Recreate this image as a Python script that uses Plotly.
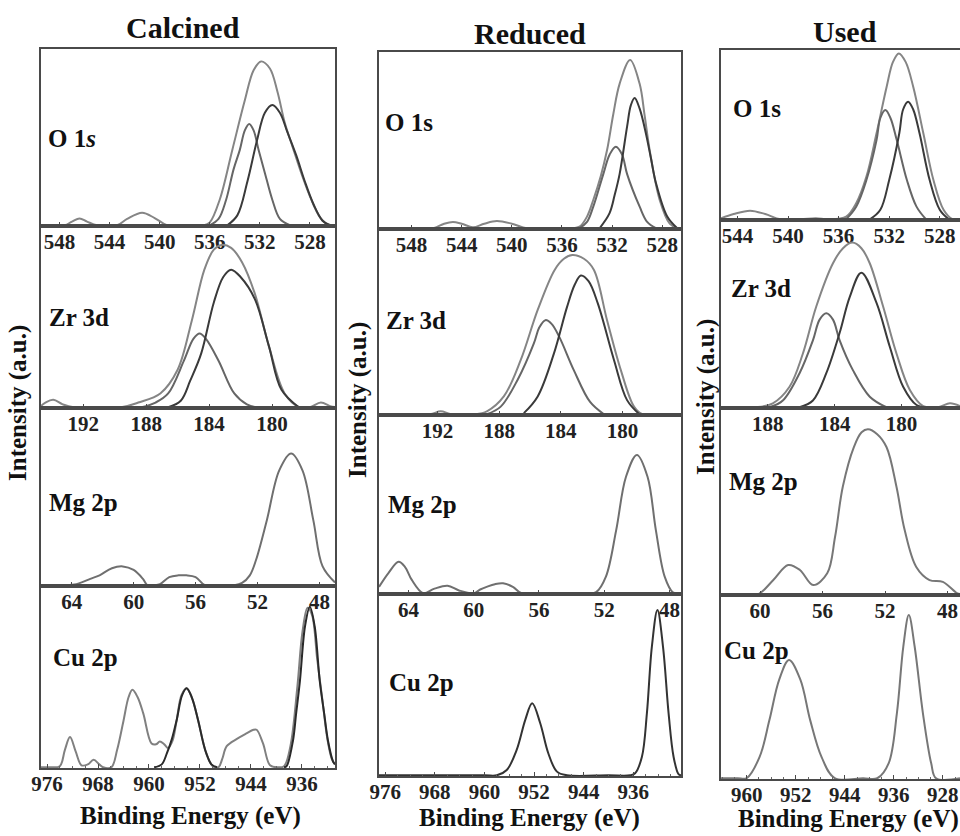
import plotly.graph_objects as go

W, H = 960, 836
SERIF = "Liberation Serif, Times New Roman, serif"

# ---------------- tick labels (binding energy, eV) ----------------
ticks_o1s_a = [548, 544, 540, 536, 532, 528]
ticks_zr_a = [192, 188, 184, 180]
ticks_mg_a = [64, 60, 56, 52, 48]
ticks_cu_a = [976, 968, 960, 952, 944, 936]
ticks_o1s_c = [544, 540, 536, 532, 528]
ticks_zr_c = [188, 184, 180]
ticks_mg_c = [60, 56, 52, 48]
ticks_cu_c = [960, 952, 944, 936, 928]

column_titles = ["Calcined", "Reduced", "Used"]

# ---------------- Calcined ----------------
calc_o1s_env_x = [549.5, 547.6, 547.0, 546.4, 545.8, 545.0, 543.4, 542.6, 541.4, 540.4, 539.4, 538.5, 536.5, 536.0, 535.2, 534.2, 533.2, 532.5, 531.9, 531.2, 530.6, 530.0, 529.4, 528.6, 527.9, 527.2, 526.6, 526.0]
calc_o1s_env_y = [0.004, 0.004, 0.025, 0.043, 0.025, 0.004, 0.004, 0.04, 0.075, 0.045, 0.004, 0.004, 0.004, 0.02, 0.15, 0.43, 0.71, 0.88, 0.93, 0.89, 0.76, 0.58, 0.45, 0.28, 0.15, 0.05, 0.01, 0.004]
calc_o1s_c1_x = [536.0, 535.3, 534.7, 534.1, 533.6, 533.2, 532.85, 532.5, 532.1, 531.6, 531.0, 530.4, 529.6]
calc_o1s_c1_y = [0.004, 0.04, 0.147, 0.32, 0.43, 0.54, 0.576, 0.54, 0.43, 0.30, 0.147, 0.04, 0.004]
calc_o1s_c2_x = [534.6, 533.8, 533.0, 532.24, 531.6, 531.0, 530.4, 529.8, 529.1, 528.4, 527.7, 527.0, 526.4]
calc_o1s_c2_y = [0.004, 0.06, 0.25, 0.48, 0.64, 0.684, 0.64, 0.53, 0.40, 0.25, 0.12, 0.03, 0.004]

calc_zr_env_x = [194.7, 194.4, 193.9, 193.3, 192.6, 189.6, 188.5, 187.1, 186.0, 185.1, 184.3, 183.7, 183.2, 182.6, 181.9, 181.1, 180.2, 179.2, 178.3, 177.6, 176.9, 176.3, 176.0]
calc_zr_env_y = [0.01, 0.03, 0.045, 0.02, 0.004, 0.004, 0.03, 0.08, 0.21, 0.48, 0.76, 0.87, 0.896, 0.88, 0.80, 0.63, 0.34, 0.08, 0.006, 0.004, 0.03, 0.01, 0.005]
calc_zr_c1_x = [188.3, 187.4, 186.6, 185.6, 185.0, 184.6, 184.2, 183.4, 182.4, 181.6, 181.0]
calc_zr_c1_y = [0.004, 0.03, 0.08, 0.26, 0.38, 0.41, 0.38, 0.26, 0.08, 0.02, 0.004]
calc_zr_c2_x = [186.6, 185.8, 185.2, 184.5, 183.7, 183.1, 182.6, 182.0, 181.1, 180.2, 179.4, 178.3]
calc_zr_c2_y = [0.004, 0.04, 0.15, 0.30, 0.58, 0.72, 0.76, 0.72, 0.60, 0.34, 0.10, 0.004]

calc_mg_x = [66.0, 64.5, 63.7, 62.8, 62.2, 61.4, 60.7, 60.0, 59.4, 59.1, 58.7, 58.3, 57.7, 57.1, 56.6, 56.0, 55.4, 54.5, 53.5, 53.0, 52.5, 52.1, 51.4, 50.6, 49.83, 49.1, 48.4, 47.8, 47.0]
calc_mg_y = [0.004, 0.004, 0.01, 0.04, 0.06, 0.10, 0.11, 0.09, 0.04, 0.004, 0.004, 0.01, 0.05, 0.06, 0.06, 0.05, 0.004, 0.004, 0.004, 0.017, 0.06, 0.146, 0.37, 0.65, 0.745, 0.65, 0.37, 0.11, 0.02]

calc_cu_gray_x = [977.0, 975.5, 974.0, 973.2, 972.4, 971.5, 970.6, 969.6, 968.7, 967.8, 967.2, 965.9, 965.0, 964.0, 963.2, 962.6, 961.8, 960.9, 959.6, 958.9, 958.3, 957.6, 957.0, 956.3, 955.65, 954.9, 954.1, 953.2, 952.3, 951.0, 950.0, 949.1, 948.5, 947.8, 946.2, 944.7, 943.6, 943.1, 942.1, 941.0, 939.8, 938.8, 937.8, 936.7, 935.9, 935.1, 934.4, 933.6, 932.8, 932.0, 931.3, 930.8]
calc_cu_gray_y = [0.004, 0.004, 0.01, 0.10, 0.17, 0.09, 0.015, 0.02, 0.045, 0.02, 0.004, 0.004, 0.10, 0.26, 0.39, 0.43, 0.39, 0.30, 0.135, 0.13, 0.145, 0.13, 0.11, 0.15, 0.264, 0.40, 0.438, 0.38, 0.264, 0.08, 0.01, 0.004, 0.05, 0.12, 0.16, 0.19, 0.21, 0.21, 0.135, 0.015, 0.004, 0.01, 0.12, 0.45, 0.75, 0.88, 0.84, 0.60, 0.38, 0.16, 0.05, 0.02]
calc_cu_d1_x = [959.2, 958.0, 957.2, 956.4, 955.65, 954.8, 954.1, 953.3, 952.3, 951.5, 951.0, 950.2, 949.3]
calc_cu_d1_y = [0.004, 0.02, 0.08, 0.16, 0.264, 0.40, 0.438, 0.39, 0.264, 0.14, 0.08, 0.02, 0.004]
calc_cu_d2_x = [938.8, 938.4, 937.4, 936.9, 936.3, 935.5, 934.75, 934.0, 933.2, 932.5, 931.9, 931.1, 930.8]
calc_cu_d2_y = [0.004, 0.01, 0.15, 0.30, 0.48, 0.78, 0.886, 0.78, 0.48, 0.30, 0.15, 0.035, 0.02]

# ---------------- Reduced ----------------
red_o1s_env_x = [550.6, 547.0, 546.2, 545.4, 544.7, 544.0, 543.1, 542.2, 541.2, 540.0, 538.8, 537.0, 535.2, 534.6, 534.0, 533.5, 532.9, 532.4, 531.9, 531.4, 530.56, 529.8, 529.4, 529.0, 528.2, 527.4, 526.8, 526.5]
red_o1s_env_y = [0.004, 0.004, 0.006, 0.03, 0.04, 0.03, 0.01, 0.03, 0.045, 0.03, 0.004, 0.004, 0.004, 0.013, 0.07, 0.164, 0.30, 0.446, 0.65, 0.82, 0.955, 0.82, 0.64, 0.446, 0.164, 0.03, 0.005, 0.004]
red_o1s_c1_x = [534.6, 534.0, 533.5, 532.7, 532.2, 531.7, 531.2, 530.8, 529.8, 529.2, 528.5]
red_o1s_c1_y = [0.005, 0.04, 0.126, 0.31, 0.42, 0.465, 0.42, 0.31, 0.126, 0.04, 0.005]
red_o1s_c2_x = [533.0, 532.2, 531.8, 531.4, 530.8, 530.5, 530.2, 529.8, 529.3, 528.9, 528.5, 527.6, 526.8]
red_o1s_c2_y = [0.004, 0.09, 0.19, 0.31, 0.58, 0.70, 0.74, 0.68, 0.54, 0.40, 0.26, 0.07, 0.004]

red_zr_env_x = [195.8, 192.5, 191.8, 191.1, 189.6, 188.8, 187.7, 186.6, 185.5, 184.4, 183.8, 183.25, 182.5, 181.85, 181.0, 180.1, 179.25, 178.7, 176.2]
red_zr_env_y = [0.004, 0.004, 0.02, 0.004, 0.004, 0.02, 0.10, 0.296, 0.565, 0.78, 0.84, 0.86, 0.84, 0.78, 0.51, 0.24, 0.045, 0.004, 0.004]
red_zr_c1_x = [188.8, 187.9, 186.8, 185.75, 185.4, 185.0, 184.6, 184.1, 183.15, 182.1, 181.2]
red_zr_c1_y = [0.004, 0.045, 0.19, 0.385, 0.47, 0.51, 0.49, 0.42, 0.24, 0.07, 0.004]
red_zr_c2_x = [186.4, 185.5, 184.45, 183.6, 183.1, 182.7, 182.2, 181.6, 180.55, 179.7, 178.9]
red_zr_c2_y = [0.01, 0.10, 0.33, 0.58, 0.70, 0.75, 0.72, 0.60, 0.296, 0.08, 0.004]

red_mg_x = [65.8, 65.2, 64.6, 64.2, 63.8, 63.1, 62.4, 61.6, 60.9, 60.0, 59.6, 59.2, 58.7, 58.2, 57.6, 57.07, 55.0, 53.0, 52.5, 51.9, 51.27, 50.67, 50.0, 49.35, 48.84, 48.3, 47.8, 47.3]
red_mg_y = [0.04, 0.12, 0.18, 0.15, 0.08, 0.005, 0.03, 0.046, 0.02, 0.004, 0.025, 0.04, 0.055, 0.06, 0.04, 0.004, 0.004, 0.004, 0.01, 0.097, 0.357, 0.655, 0.777, 0.655, 0.357, 0.097, 0.01, 0.004]

red_cu_x = [977.0, 960.0, 958.0, 956.4, 954.8, 953.4, 952.3, 951.0, 949.7, 948.3, 946.7, 940.0, 936.5, 935.7, 934.6, 933.8, 933.0, 932.1, 931.2, 930.3, 929.5, 928.7, 928.3]
red_cu_y = [0.004, 0.004, 0.004, 0.033, 0.143, 0.31, 0.40, 0.29, 0.125, 0.024, 0.004, 0.004, 0.004, 0.015, 0.106, 0.344, 0.71, 0.912, 0.71, 0.344, 0.106, 0.01, 0.004]

# ---------------- Used ----------------
used_o1s_env_x = [545.3, 544.3, 543.0, 541.8, 540.6, 539.0, 537.8, 536.8, 535.4, 534.6, 533.8, 533.0, 532.2, 531.7, 531.24, 530.7, 530.1, 529.3, 528.5, 527.7, 527.0, 526.4]
used_o1s_env_y = [0.01, 0.035, 0.055, 0.035, 0.004, 0.004, 0.01, 0.004, 0.02, 0.10, 0.255, 0.51, 0.784, 0.93, 0.98, 0.93, 0.784, 0.51, 0.235, 0.06, 0.005, 0.004]
used_o1s_c1_x = [535.4, 534.6, 533.8, 533.0, 532.7, 532.3, 531.9, 531.4, 530.6, 529.85, 529.1]
used_o1s_c1_y = [0.005, 0.08, 0.235, 0.47, 0.60, 0.647, 0.60, 0.47, 0.235, 0.08, 0.005]
used_o1s_c2_x = [533.5, 532.7, 532.0, 531.2, 530.9, 530.5, 530.1, 529.6, 528.8, 528.0, 527.3]
used_o1s_c2_y = [0.005, 0.06, 0.235, 0.51, 0.65, 0.696, 0.65, 0.51, 0.235, 0.06, 0.005]

used_zr_env_x = [190.8, 188.7, 187.7, 186.7, 185.9, 185.1, 184.1, 183.5, 182.94, 182.4, 181.9, 181.1, 180.3, 179.5, 178.7, 177.8, 177.1, 176.5]
used_zr_env_y = [0.004, 0.004, 0.025, 0.113, 0.29, 0.54, 0.77, 0.85, 0.88, 0.85, 0.77, 0.54, 0.29, 0.096, 0.01, 0.004, 0.025, 0.01]
used_zr_c1_x = [187.9, 187.1, 186.1, 185.3, 184.9, 184.5, 184.1, 183.7, 182.9, 181.9, 180.9]
used_zr_c1_y = [0.004, 0.04, 0.185, 0.36, 0.47, 0.504, 0.47, 0.36, 0.20, 0.06, 0.004]
used_zr_c2_x = [186.1, 185.3, 184.5, 183.7, 183.1, 182.4, 181.5, 180.7, 179.9, 179.1, 178.5]
used_zr_c2_y = [0.004, 0.04, 0.185, 0.40, 0.59, 0.72, 0.56, 0.326, 0.113, 0.016, 0.004]

used_mg_x = [62.5, 60.8, 60.1, 59.15, 58.2, 57.45, 56.6, 55.7, 55.2, 54.7, 54.0, 53.5, 53.09, 52.5, 51.9, 51.27, 50.75, 50.0, 49.15, 48.3, 47.4, 47.2]
used_mg_y = [0.004, 0.004, 0.005, 0.08, 0.16, 0.134, 0.053, 0.116, 0.31, 0.58, 0.79, 0.87, 0.886, 0.86, 0.79, 0.58, 0.35, 0.15, 0.08, 0.07, 0.01, 0.005]

used_cu_x = [964.2, 961.5, 960.0, 957.9, 956.3, 954.7, 953.1, 951.25, 949.65, 947.8, 945.65, 941.0, 938.7, 936.85, 935.5, 934.45, 933.55, 932.6, 931.25, 929.9, 929.1, 925.2]
used_cu_y = [0.004, 0.004, 0.005, 0.12, 0.32, 0.54, 0.647, 0.54, 0.32, 0.12, 0.005, 0.004, 0.004, 0.085, 0.357, 0.72, 0.891, 0.72, 0.357, 0.085, 0.004, 0.004]

# ---------------- layout geometry (pixels) ----------------
ENV, C1, C2 = "#858585", "#666666", "#3a3a3a"
col_px = [(40.7, 335.0), (379.0, 681.0), (721.0, 960.0)]
row_px = [[49, 226, 408, 586, 768], [52, 229, 415, 594, 776], [50, 220, 408, 595, 779]]
xranges = [
    [[549.5, 526.0], [194.7, 176.0], [66.0, 47.0], [977.0, 930.8]],
    [[550.6, 526.5], [195.8, 176.2], [65.8, 47.3], [977.0, 928.3]],
    [[545.3, 526.4], [190.8, 176.5], [62.5, 47.2], [964.2, 925.2]],
]
tickset = [
    [ticks_o1s_a, ticks_zr_a, ticks_mg_a, ticks_cu_a],
    [ticks_o1s_a, ticks_zr_a, ticks_mg_a, ticks_cu_a],
    [ticks_o1s_c, ticks_zr_c, ticks_mg_c, ticks_cu_c],
]
curves = [
    [
        [(calc_o1s_env_x, calc_o1s_env_y, ENV), (calc_o1s_c1_x, calc_o1s_c1_y, C1), (calc_o1s_c2_x, calc_o1s_c2_y, C2)],
        [(calc_zr_env_x, calc_zr_env_y, ENV), (calc_zr_c1_x, calc_zr_c1_y, C1), (calc_zr_c2_x, calc_zr_c2_y, C2)],
        [(calc_mg_x, calc_mg_y, "#6f6f6f")],
        [(calc_cu_gray_x, calc_cu_gray_y, "#808080"), (calc_cu_d1_x, calc_cu_d1_y, "#2a2a2a"), (calc_cu_d2_x, calc_cu_d2_y, "#2a2a2a")],
    ],
    [
        [(red_o1s_env_x, red_o1s_env_y, ENV), (red_o1s_c1_x, red_o1s_c1_y, C1), (red_o1s_c2_x, red_o1s_c2_y, C2)],
        [(red_zr_env_x, red_zr_env_y, ENV), (red_zr_c1_x, red_zr_c1_y, C1), (red_zr_c2_x, red_zr_c2_y, C2)],
        [(red_mg_x, red_mg_y, "#6f6f6f")],
        [(red_cu_x, red_cu_y, "#333333")],
    ],
    [
        [(used_o1s_env_x, used_o1s_env_y, ENV), (used_o1s_c1_x, used_o1s_c1_y, C1), (used_o1s_c2_x, used_o1s_c2_y, C2)],
        [(used_zr_env_x, used_zr_env_y, ENV), (used_zr_c1_x, used_zr_c1_y, C1), (used_zr_c2_x, used_zr_c2_y, C2)],
        [(used_mg_x, used_mg_y, "#777777")],
        [(used_cu_x, used_cu_y, "#777777")],
    ],
]

fig = go.Figure()
layout = {}
k = 0
for c in range(3):
    x0, x1 = col_px[c]
    for r in range(4):
        k += 1
        top, bot = row_px[c][r], row_px[c][r + 1]
        xa = "xaxis" if k == 1 else f"xaxis{k}"
        ya = "yaxis" if k == 1 else f"yaxis{k}"
        xr = "x" if k == 1 else f"x{k}"
        yr = "y" if k == 1 else f"y{k}"
        for xs, ys, col in curves[c][r]:
            fig.add_trace(go.Scatter(x=xs, y=ys, mode="lines", xaxis=xr, yaxis=yr,
                                     line=dict(color=col, width=2, shape="spline", smoothing=1.0),
                                     hoverinfo="skip", showlegend=False))
        tv = tickset[c][r]
        layout[xa] = dict(
            domain=[x0 / W, x1 / W], anchor=yr, range=xranges[c][r], automargin=False,
            showgrid=False, zeroline=False, showline=True, linecolor="#4a4a4a", linewidth=2,
            mirror=True, ticks="inside", ticklen=4, tickwidth=1, tickcolor="#4a4a4a",
            tickvals=tv, ticktext=[str(v) for v in tv], ticklabeloverflow="allow",
            ticklabelstandoff=-4,
            tickfont=dict(family=SERIF, size=21, color="#222222", weight="bold"),
            minor=dict(ticks="inside", ticklen=2, dtick=2 if r == 3 else 1, tickcolor="#666666"),
        )
        layout[ya] = dict(
            domain=[1 - bot / H, 1 - top / H], anchor=xr, range=[0, 1], automargin=False,
            showgrid=False, zeroline=False, showticklabels=False, ticks="",
            showline=True, linecolor="#4a4a4a", linewidth=2, mirror=(c < 2),
        )

ann = []
def add_text(text, xpx, ypx, size, xanchor="center", angle=0):
    ann.append(dict(text=text, x=xpx / W, y=1 - ypx / H, xref="paper", yref="paper",
                    showarrow=False, xanchor=xanchor, yanchor="middle", textangle=angle,
                    font=dict(family=SERIF, size=size, color="#111111")))

title_pos = [(183, 27), (530, 33), (845, 32)]
for t, (px, py) in zip(column_titles, title_pos):
    add_text(f"<b>{t}</b>", px, py, 30)

panel_labels = [
    [("O 1<i>s</i>", 46, 138), ("Zr 3d", 47, 317), ("Mg 2p", 47, 502), ("Cu 2p", 51, 657)],
    [("O 1s", 383, 123), ("Zr 3d", 384, 320), ("Mg 2p", 386, 505), ("Cu 2p", 387, 682)],
    [("O 1s", 731, 109), ("Zr 3d", 729, 288), ("Mg 2p", 727, 482), ("Cu 2p", 722, 650)],
]
for col in panel_labels:
    for t, px, py in col:
        add_text(f"<b>{t}</b>", px, py, 25, xanchor="left")

for px, py in [(18, 403), (358, 400), (706, 397)]:
    add_text("<b>Intensity (a.u.)</b>", px, py, 25, angle=-90)
for px, py in [(190, 816), (529, 818), (848, 819)]:
    add_text("<b>Binding Energy (eV)</b>", px, py, 25)

fig.update_layout(width=W, height=H, margin=dict(l=0, r=0, t=0, b=0, autoexpand=False),
                  paper_bgcolor="white", plot_bgcolor="white", showlegend=False,
                  annotations=ann, **layout)
fig.write_html("out.html", config={"displayModeBar": False},
               post_script="document.body.style.margin='0';document.body.style.overflow='hidden';")
